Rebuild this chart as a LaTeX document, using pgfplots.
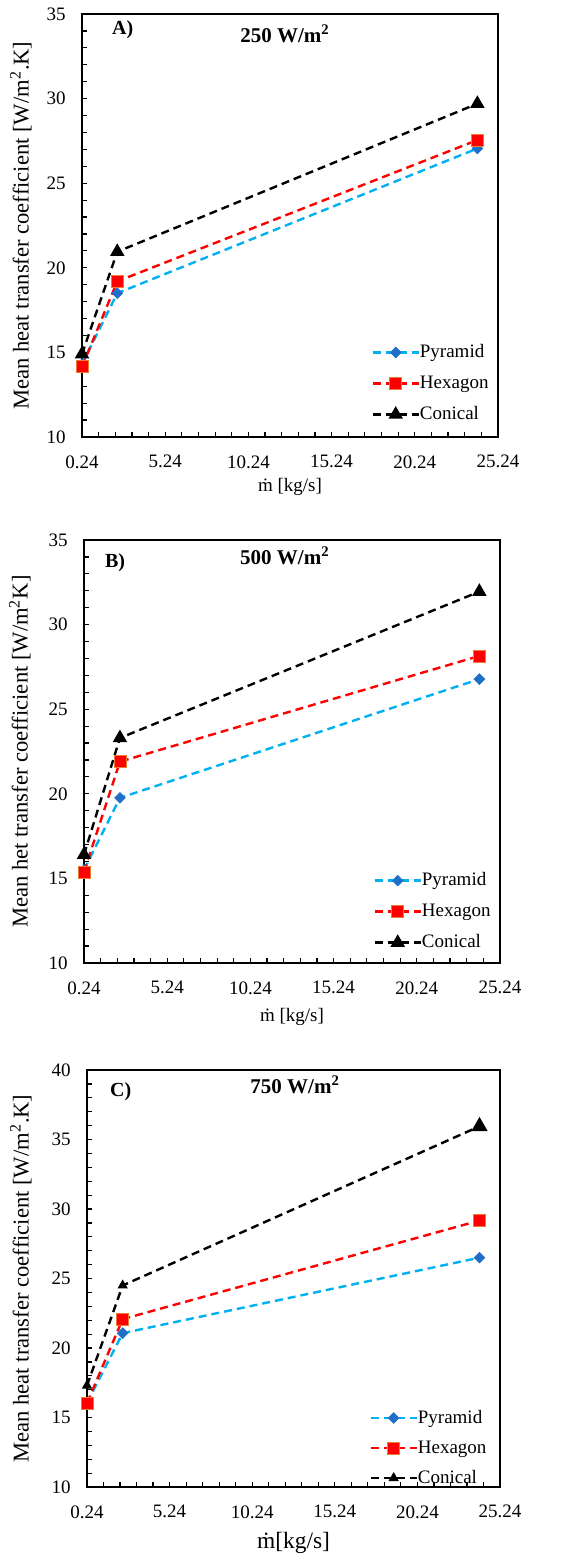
\documentclass[border=0pt]{standalone}
\usepackage{fontspec}
\setmainfont{Liberation Serif}
\usepackage{pgfplots}
\pgfplotsset{compat=1.18}
\definecolor{pyrline}{RGB}{0,176,240}
\definecolor{pyrmark}{RGB}{31,110,200}
\definecolor{hexedge}{RGB}{237,125,49}
\pgfplotsset{
  panel/.style={
    scale only axis,
    xmin=0.24, xmax=25.24,
    xtick={0.24,5.24,10.24,15.24,20.24,25.24},
    xticklabels={0.24,5.24,10.24,15.24,20.24,25.24},
    minor x tick num=4,
    minor y tick num=4,
    tick align=inside,
    xtick pos=bottom, ytick pos=left,
    major tick length=2.7pt, minor tick length=2.7pt,
    every tick/.style={black, line width=0.6pt},
    axis line style={line width=1pt},
    /pgf/number format/assume math mode=true,
    tick label style={font=\fontsize{9.5}{11}\selectfont},
    yticklabel style={inner sep=0pt},
    yticklabel shift=8pt,
    xticklabel style={inner sep=0pt},
    xticklabel shift=9pt,
    xlabel style={font=\fontsize{9.5}{11}\selectfont},
    ylabel style={font=\fontsize{11.3}{13}\selectfont},
    clip=false,
    legend cell align=left,
    legend style={draw=none, fill=none, inner sep=0pt,
      font=\fontsize{9.5}{11}\selectfont,
      nodes={inner sep=0pt, text height=7pt, text depth=2pt},
      row sep=6.5pt, anchor=north west},
    legend image code/.code={\draw[mark repeat=2,mark phase=2,#1] plot coordinates {(0pt,0pt) (11.5pt,0pt) (23pt,0pt)};},
    /tikz/every even column/.append style={column sep=2pt},
  },
  pyr/.style={color=pyrline, line width=1.2pt, dash pattern=on 4pt off 2.5pt, mark=square*, mark size=1.9pt,
     mark options={solid, rotate=45, fill=pyrmark, draw=pyrmark, line width=0.3pt}},
  hex/.style={color=red, line width=1.2pt, dash pattern=on 4pt off 2.5pt, mark=square*, mark size=3pt,
     mark options={solid, fill=red, draw=hexedge, line width=0.4pt}},
  con/.style={color=black, line width=1.2pt, dash pattern=on 4pt off 2.5pt, mark=triangle*, mark size=3pt,
     mark options={solid, fill=black}},
}
\begin{document}
\begin{tikzpicture}
\path[use as bounding box] (0pt,0pt) rectangle (288.5pt,-780pt);
% Panel A
\begin{axis}[panel, at={(41pt,-7pt)}, anchor=north west, width=208pt, height=211.5pt,
  ymin=10, ymax=35, ytick={10,15,...,35},
  xlabel={ṁ [kg/s]},
  xlabel style={at={(axis description cs:0.5,0)}, anchor=center, yshift=-25pt},
  ylabel={Mean heat transfer coefficient [W/m\textsuperscript{2}.K]},
  ylabel style={at={(axis description cs:-0.147,0.5)}, anchor=center},
  legend style={at={(0.695,0.222)}}]
\addlegendimage{pyr}\addlegendentry{Pyramid}
\addlegendimage{hex}\addlegendentry{Hexagon}
\addlegendimage{con}\addlegendentry{Conical}
\addplot[con, forget plot] coordinates {(0.24,14.9) (2.36,20.95) (24.0,29.7)};
\addplot[pyr, forget plot] coordinates {(0.24,14.3) (2.36,18.5) (24.0,27.05)};
\addplot[hex, forget plot] coordinates {(0.24,14.15) (2.36,19.2) (24.0,27.55)};
\node[anchor=west, font=\fontsize{10}{12}\selectfont\bfseries] at ([xshift=11.5pt,yshift=-8pt]rel axis cs:0,1) {A)};
\node[anchor=center, font=\fontsize{10.5}{12}\selectfont\bfseries] at ([yshift=-10pt]rel axis cs:0.488,1) {250 W/m\textsuperscript{2}};
\end{axis}
% Panel B
\begin{axis}[panel, at={(42pt,-270pt)}, anchor=north west, width=208pt, height=211.5pt,
  ymin=10, ymax=35, ytick={10,15,...,35},
  xlabel={ṁ [kg/s]},
  xlabel style={at={(axis description cs:0.5,0)}, anchor=center, yshift=-27pt},
  ylabel={Mean het transfer coefficient [W/m\textsuperscript{2}K]},
  ylabel style={at={(axis description cs:-0.154,0.5)}, anchor=center},
  legend style={at={(0.695,0.217)}}]
\addlegendimage{pyr}\addlegendentry{Pyramid}
\addlegendimage{hex}\addlegendentry{Hexagon}
\addlegendimage{con}\addlegendentry{Conical}
\addplot[con, forget plot] coordinates {(0.24,16.4) (2.4,23.3) (24.0,31.95)};
\addplot[pyr, forget plot] coordinates {(0.24,15.5) (2.4,19.76) (24.0,26.78)};
\addplot[hex, forget plot] coordinates {(0.24,15.38) (2.4,21.9) (24.0,28.15)};
\node[anchor=west, font=\fontsize{10}{12}\selectfont\bfseries] at ([xshift=7pt,yshift=-11.5pt]rel axis cs:0,1) {B)};
\node[anchor=center, font=\fontsize{10.5}{12}\selectfont\bfseries] at ([yshift=-8pt]rel axis cs:0.483,1) {500 W/m\textsuperscript{2}};
\end{axis}
% Panel C
\begin{axis}[panel, at={(43.5pt,-535pt)}, anchor=north west, width=206.5pt, height=208.5pt,
  ymin=10, ymax=40, ytick={10,15,...,40},
  xlabel={ṁ[kg/s]},
  xlabel style={at={(axis description cs:0.5,0)}, anchor=center, yshift=-28pt, font=\fontsize{11.7}{13}\selectfont},
  ylabel={Mean heat transfer coefficient [W/m\textsuperscript{2}.K]},
  ylabel style={at={(axis description cs:-0.16,0.5)}, anchor=center},
  legend style={at={(0.683,0.188)}, row sep=6pt}]
\addlegendimage{pyr}\addlegendentry{Pyramid}
\addlegendimage{hex}\addlegendentry{Hexagon}
\addlegendimage{con, mark size=1.8pt}\addlegendentry{Conical}
\addplot[con, mark size=1.8pt, forget plot] coordinates {(0.24,17.3) (2.4,24.5) (24.0,35.95)};
\addplot[con, only marks, mark size=3.5pt, forget plot] coordinates {(24.0,35.95)};
\addplot[pyr, forget plot] coordinates {(0.24,16.05) (2.4,21.07) (24.0,26.5)};
\addplot[hex, forget plot] coordinates {(0.24,16.04) (2.4,22.08) (24.0,29.17)};
\node[anchor=west, font=\fontsize{10}{12}\selectfont\bfseries] at ([xshift=8pt,yshift=-11pt]rel axis cs:0,1) {C)};
\node[anchor=center, font=\fontsize{10.5}{12}\selectfont\bfseries] at ([yshift=-7.5pt]rel axis cs:0.504,1) {750 W/m\textsuperscript{2}};
\end{axis}
\end{tikzpicture}
\end{document}
